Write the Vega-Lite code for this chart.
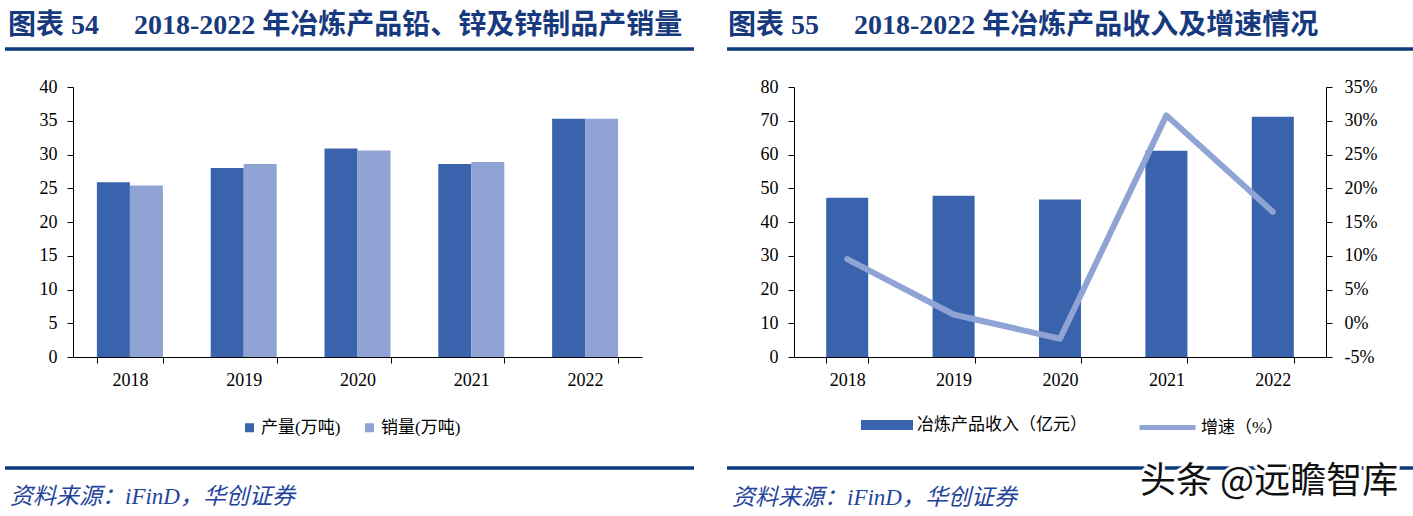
{
  "$schema": "https://vega.github.io/schema/vega-lite/v6.json",
  "background": "white",
  "padding": {"left": 3, "top": 12, "right": 0, "bottom": 5},
  "bounds": "flush",
  "columns": 2,
  "spacing": {"row": 0, "column": 152},
  "config": {
    "view": {"stroke": null},
    "axis": {"domainColor": "#000000", "tickColor": "#000000", "domainWidth": 1, "tickWidth": 1, "tickSize": 6, "labelFont": "Liberation Serif", "labelFontSize": 18, "labelColor": "#000000", "grid": false, "title": null},
    "legend": {"labelFont": "'Liberation Serif', 'Noto Sans CJK SC'", "labelFontSize": 17, "labelColor": "#000000", "padding": 0, "title": null, "labelLimit": 400},
    "title": {"font": "'Liberation Serif', 'Noto Sans CJK SC'", "anchor": "start", "frame": "group"}
  },
  "concat": [
    {
      "width": 569,
      "height": 38,
      "title": {"text": "图表 54　 2018-2022 年冶炼产品铅、锌及锌制品产销量", "dx": -65, "dy": 27, "offset": 12, "baseline": "alphabetic", "fontSize": 28, "fontWeight": "bold", "color": "#173A7E"},
      "data": {"values": [{}]},
      "mark": {"type": "rule", "color": "#0C3B7C", "strokeWidth": 3.5},
      "encoding": {
        "x": {"datum": -0.1195, "type": "quantitative", "scale": {"domain": [0, 1]}, "axis": null},
        "x2": {"datum": 1.0914},
        "y": {"datum": 1, "type": "quantitative", "scale": {"domain": [0, 1]}, "axis": null}
      }
    },
    {
      "width": 532,
      "height": 38,
      "title": {"text": "图表 55　 2018-2022 年冶炼产品收入及增速情况", "dx": -66, "dy": 27, "offset": 12, "baseline": "alphabetic", "fontSize": 28, "fontWeight": "bold", "color": "#173A7E"},
      "data": {"values": [{}]},
      "mark": {"type": "rule", "color": "#0C3B7C", "strokeWidth": 3.5},
      "encoding": {
        "x": {"datum": -0.1259, "type": "quantitative", "scale": {"domain": [0, 1]}, "axis": null},
        "x2": {"datum": 1.1635},
        "y": {"datum": 1, "type": "quantitative", "scale": {"domain": [0, 1]}, "axis": null}
      }
    },
    {
      "width": 569,
      "height": 270,
      "data": {"values": [
        {"year": "2018", "series": "产量(万吨)", "value": 25.9},
        {"year": "2018", "series": "销量(万吨)", "value": 25.4},
        {"year": "2019", "series": "产量(万吨)", "value": 28.0},
        {"year": "2019", "series": "销量(万吨)", "value": 28.6},
        {"year": "2020", "series": "产量(万吨)", "value": 30.9},
        {"year": "2020", "series": "销量(万吨)", "value": 30.6},
        {"year": "2021", "series": "产量(万吨)", "value": 28.6},
        {"year": "2021", "series": "销量(万吨)", "value": 28.9},
        {"year": "2022", "series": "产量(万吨)", "value": 35.3},
        {"year": "2022", "series": "销量(万吨)", "value": 35.3}
      ]},
      "mark": {"type": "bar"},
      "encoding": {
        "x": {"field": "year", "type": "nominal", "scale": {"paddingInner": 0.42, "paddingOuter": 0.21}, "axis": {"labelAngle": 0, "tickBand": "extent", "labelPadding": 8}},
        "xOffset": {"field": "series", "type": "nominal", "sort": ["产量(万吨)", "销量(万吨)"], "scale": {"paddingInner": 0, "paddingOuter": 0}},
        "y": {"field": "value", "type": "quantitative", "scale": {"domain": [0, 40]}, "axis": {"values": [0, 5, 10, 15, 20, 25, 30, 35, 40], "labelPadding": 10}},
        "color": {"field": "series", "type": "nominal", "sort": ["产量(万吨)", "销量(万吨)"], "scale": {"range": ["#3A63AD", "#8FA3D4"]}, "legend": {"orient": "none", "legendX": 168, "legendY": 370, "direction": "horizontal", "symbolType": "square", "symbolSize": 81, "symbolStrokeWidth": 0, "labelOffset": 3, "columnPadding": 20}}
      }
    },
    {
      "width": 532,
      "height": 270,
      "layer": [
        {
          "data": {"values": [
            {"year": "2018", "metric": "冶炼产品收入（亿元）", "revenue": 47.2},
            {"year": "2019", "metric": "冶炼产品收入（亿元）", "revenue": 47.8},
            {"year": "2020", "metric": "冶炼产品收入（亿元）", "revenue": 46.7},
            {"year": "2021", "metric": "冶炼产品收入（亿元）", "revenue": 61.1},
            {"year": "2022", "metric": "冶炼产品收入（亿元）", "revenue": 71.2}
          ]},
          "mark": {"type": "bar"},
          "encoding": {
            "x": {"field": "year", "type": "nominal", "scale": {"paddingInner": 0.605, "paddingOuter": 0.3025}, "axis": {"labelAngle": 0, "tickBand": "extent", "labelPadding": 8}},
            "y": {"field": "revenue", "type": "quantitative", "scale": {"domain": [0, 80]}, "axis": {"values": [0, 10, 20, 30, 40, 50, 60, 70, 80], "labelPadding": 10}},
            "fill": {"field": "metric", "type": "nominal", "scale": {"range": ["#3A63AD"]}, "legend": {"orient": "none", "legendX": 788, "legendY": 350, "direction": "horizontal", "symbolType": "M-1,-0.19H1V0.19H-1Z", "symbolSize": 2704, "symbolStrokeWidth": 0, "labelOffset": 4}}
          }
        },
        {
          "data": {"values": [
            {"year": "2018", "metric": "增速（%）", "growth": 9.5},
            {"year": "2019", "metric": "增速（%）", "growth": 1.3},
            {"year": "2020", "metric": "增速（%）", "growth": -2.3},
            {"year": "2021", "metric": "增速（%）", "growth": 30.8},
            {"year": "2022", "metric": "增速（%）", "growth": 16.5}
          ]},
          "mark": {"type": "line", "strokeWidth": 6, "strokeCap": "round", "strokeJoin": "round"},
          "encoding": {
            "x": {"field": "year", "type": "nominal", "bandPosition": 0.5},
            "y": {"field": "growth", "type": "quantitative", "scale": {"domain": [-5, 35]}, "axis": {"orient": "right", "values": [-5, 0, 5, 10, 15, 20, 25, 30, 35], "labelExpr": "datum.value + '%'", "labelPadding": 12}},
            "stroke": {"field": "metric", "type": "nominal", "scale": {"range": ["#8FA3D4"]}, "legend": {"orient": "none", "legendX": 1064, "legendY": 348, "direction": "horizontal", "symbolType": "stroke", "symbolSize": 3136, "symbolStrokeWidth": 5, "labelOffset": 3}}
          }
        }
      ],
      "resolve": {"scale": {"y": "independent"}}
    },
    {
      "width": 569,
      "height": 111,
      "title": {"text": "资料来源：iFinD，华创证券", "orient": "bottom", "dx": -63, "offset": 34, "baseline": "alphabetic", "fontSize": 23, "fontStyle": "italic", "fontWeight": "normal", "color": "#24449A"},
      "data": {"values": [{}]},
      "mark": {"type": "rule", "color": "#0C3B7C", "strokeWidth": 3.5},
      "encoding": {
        "x": {"datum": -0.1195, "type": "quantitative", "scale": {"domain": [0, 1]}, "axis": null},
        "x2": {"datum": 1.0914},
        "y": {"datum": 0, "type": "quantitative", "scale": {"domain": [0, 1]}, "axis": null}
      }
    },
    {
      "width": 532,
      "height": 111,
      "title": {"text": "资料来源：iFinD，华创证券", "orient": "bottom", "dx": -62, "offset": 5, "baseline": "alphabetic", "fontSize": 23, "fontStyle": "italic", "fontWeight": "normal", "color": "#24449A"},
      "data": {"values": [{}]},
      "layer": [
        {
          "mark": {"type": "rule", "color": "#0C3B7C", "strokeWidth": 3.5},
          "encoding": {
            "x": {"datum": -0.1259, "type": "quantitative", "scale": {"domain": [0, 1]}, "axis": null},
            "x2": {"datum": 1.1635},
            "y": {"datum": 0, "type": "quantitative", "scale": {"domain": [0, 1]}, "axis": null}
          }
        },
        {
          "mark": {"type": "text", "font": "Noto Sans CJK SC", "fontSize": 36, "align": "left", "baseline": "alphabetic", "fill": "white", "stroke": "white", "strokeWidth": 6, "strokeJoin": "round"},
          "encoding": {
            "text": {"datum": "头条 @远瞻智库"},
            "x": {"datum": 0.6504, "type": "quantitative"},
            "y": {"datum": -0.2252, "type": "quantitative"}
          }
        },
        {
          "mark": {"type": "text", "font": "Noto Sans CJK SC", "fontSize": 36, "align": "left", "baseline": "alphabetic", "fill": "#111111"},
          "encoding": {
            "text": {"datum": "头条 @远瞻智库"},
            "x": {"datum": 0.6504, "type": "quantitative"},
            "y": {"datum": -0.2252, "type": "quantitative"}
          }
        }
      ]
    }
  ]
}
